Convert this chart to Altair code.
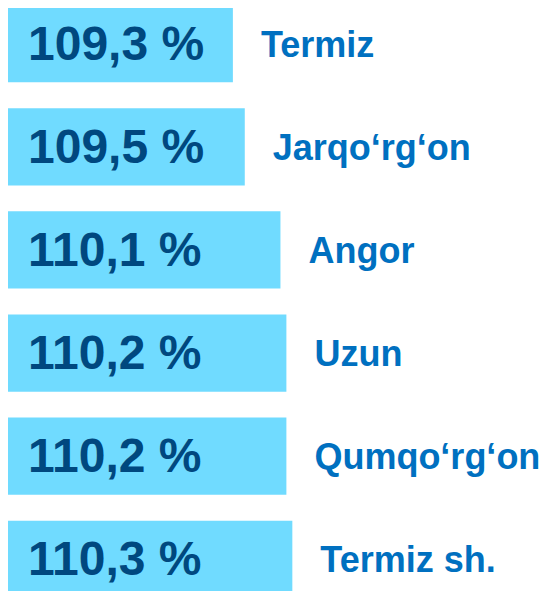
import altair as alt
import pandas as pd

regions = ["Termiz", "Jarqo‘rg‘on", "Angor", "Uzun", "Qumqo‘rg‘on", "Termiz sh."]
values = [109.3, 109.5, 110.1, 110.2, 110.2, 110.3]

df = pd.DataFrame({"region": regions, "value": values})
df["vtxt"] = [f"{v:.1f}".replace(".", ",") + " %" for v in values]

yenc = alt.Y("region:N", sort=regions, axis=None,
             scale=alt.Scale(range=[-3, 590], paddingInner=0.25, paddingOuter=0))
xscale = alt.Scale(domain=[105.5, 114.5], range=[-1, 534])

base = alt.Chart(df).encode(y=yenc)

bars = base.mark_bar(color="#70DBFF").encode(
    x=alt.X("value:Q", scale=xscale, axis=None),
    x2=alt.value(-1),
)

vals = base.mark_text(align="left", baseline="middle", font="Liberation Sans",
                      fontWeight="bold", fontSize=48, color="#00487F", dy=2).encode(
    x=alt.value(20),
    text="vtxt:N",
)

labels = base.mark_text(align="left", baseline="middle", font="Liberation Sans",
                        fontWeight="bold", fontSize=36, color="#0070C0", dx=28, dy=2).encode(
    x=alt.X("value:Q", scale=xscale, axis=None),
    text="region:N",
)

chart = (bars + vals + labels).properties(
    width=539, height=583, padding=0, autosize=alt.AutoSizeParams(type="none")
).configure_view(stroke=None)

chart.save("out.html", embed_options={"renderer": "svg", "actions": False})
